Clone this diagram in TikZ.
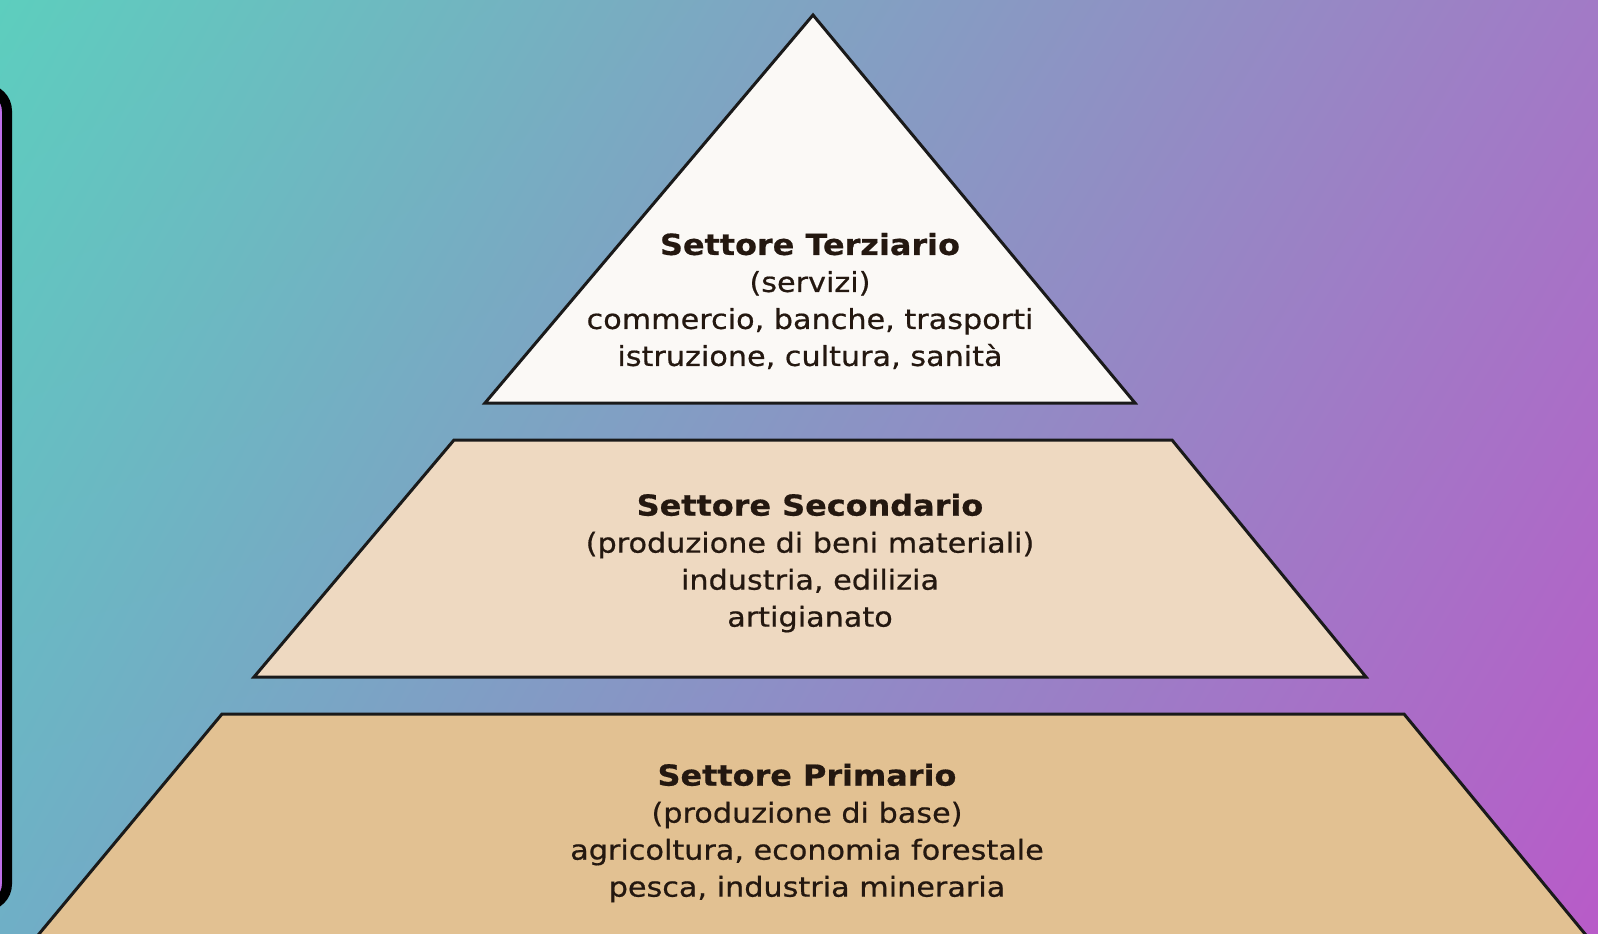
\documentclass[tikz,border=0pt]{standalone}
\usepackage{fontspec}
\usetikzlibrary{shadings}
\newfontfamily\pf[FakeStretch=1.1,FakeBold=0.6]{DejaVu Sans}
\definecolor{bgTL}{HTML}{5DCEBE}
\definecolor{bgTR}{HTML}{A27AC6}
\definecolor{bgBL}{HTML}{6FAFC6}
\definecolor{bgBR}{HTML}{B85BC8}
\definecolor{boxfill}{HTML}{BF6FE8}
\definecolor{terfill}{HTML}{FBF9F6}
\definecolor{secfill}{HTML}{EED9C1}
\definecolor{prifill}{HTML}{E2C192}
\definecolor{edge}{HTML}{1A1A1A}
\definecolor{txt}{HTML}{241810}
\tikzset{
  layer/.style={draw=edge, line width=3pt, line join=miter},
  label/.style={align=center, text=txt, inner sep=0pt, font=\pf\fontsize{27.5}{37}\selectfont},
}
\newcommand{\ttl}[1]{{\fontsize{29}{37}\selectfont\bfseries #1}}
\begin{document}
\begin{tikzpicture}[x=1pt,y=-1pt]
\useasboundingbox (0,0) rectangle (1598,934);
\shade[upper left=bgTL, upper right=bgTR, lower left=bgBL, lower right=bgBR] (0,0) rectangle (1598,934);
% left framed box
\draw[fill=boxfill, draw=black, line width=10pt, rounded corners=22pt] (-60,89) rectangle (7,906);
% pyramid layers
\draw[layer, fill=terfill] (813,15) -- (1135,403) -- (485,403) -- cycle;
\draw[layer, fill=secfill] (454,440) -- (1172,440) -- (1366,677) -- (254,677) -- cycle;
\draw[layer, fill=prifill] (222,714) -- (1404,714) -- (1590,940) -- (34,940) -- cycle;
% texts
\node[label] (ter) at (810,301) {\ttl{Settore Terziario}\\(servizi)\\commercio, banche, trasporti\\istruzione, cultura, sanità};
\node[label] (sec) at (810,563) {\ttl{Settore Secondario}\\(produzione di beni materiali)\\industria, edilizia\\artigianato};
\node[label] (pri) at (807,833) {\ttl{Settore Primario}\\(produzione di base)\\agricoltura, economia forestale\\pesca, industria mineraria};
\end{tikzpicture}
\end{document}
